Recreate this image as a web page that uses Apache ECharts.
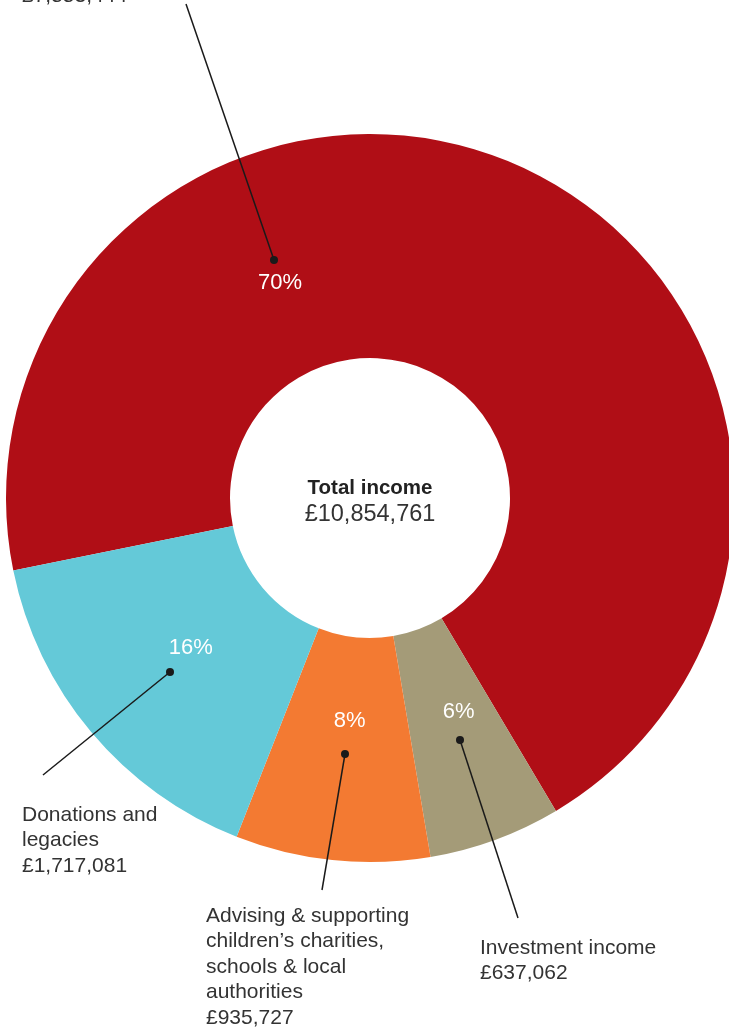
<!DOCTYPE html>
<html>
<head>
<meta charset="utf-8">
<script src="https://cdn.jsdelivr.net/npm/echarts@6/dist/echarts.min.js"></script>
<style>
html,body{margin:0;padding:0;background:#fff;}
#chart{width:729px;height:1031px;}
</style>
</head>
<body>
<div id="chart"></div>
<script>
// Data (clockwise from the red/blue boundary)
var categories = ['Charitable activities', 'Investment income', 'Advising & supporting children\u2019s charities, schools & local authorities', 'Donations and legacies'];
var values = [7553444, 637062, 935727, 1717081];
var pctLabels = ['70%', '6%', '8%', '16%'];
var colors = ['#b00e16', '#a49b78', '#f37a32', '#64c9d8'];
var outerLabels = [
  '\u00a37,553,444',
  'Investment income\n\u00a3637,062',
  'Advising & supporting\nchildren\u2019s charities,\nschools & local\nauthorities\n\u00a3935,727',
  'Donations and\nlegacies\n\u00a31,717,081'
];
var totalTitle = 'Total income';
var totalValue = '\u00a310,854,761';

var cx = 370, cy = 498, r0 = 140, r1 = 364;
var font = '"Liberation Sans", Arial, sans-serif';

// annotation geometry (leader lines & label boxes)
var leaders = [
  {dot: [274, 260], end: [186, 4], text: [22, 9], vAlign: 'bottom'},
  {dot: [460, 740], end: [518, 918], text: [480, 935], vAlign: 'top'},
  {dot: [345, 754], end: [322, 890], text: [206, 903], vAlign: 'top'},
  {dot: [170, 672], end: [43, 775], text: [22, 802], vAlign: 'top'}
];

var graphics = [];
leaders.forEach(function (l, i) {
  graphics.push({type: 'line', z: 100, shape: {x1: l.dot[0], y1: l.dot[1], x2: l.end[0], y2: l.end[1]}, style: {stroke: '#1a1a1a', lineWidth: 1.5}});
  graphics.push({type: 'circle', z: 101, shape: {cx: l.dot[0], cy: l.dot[1], r: 4}, style: {fill: '#1a1a1a'}});
  graphics.push({type: 'text', z: 100, x: l.text[0], y: l.text[1], style: {text: outerLabels[i], font: '21px ' + font, fill: '#333', lineHeight: 25.5, verticalAlign: l.vAlign, align: 'left'}});
});
graphics.push({type: 'text', z: 100, x: cx, y: 488, style: {text: totalTitle, font: 'bold 20.5px ' + font, fill: '#222', align: 'center', verticalAlign: 'middle'}});
graphics.push({type: 'text', z: 100, x: cx, y: 515, style: {text: totalValue, font: '23.5px ' + font, fill: '#333', align: 'center', verticalAlign: 'middle'}});

var data = values.map(function (v, i) {
  return {name: categories[i], value: v, itemStyle: {color: colors[i]}};
});
var labelData = values.map(function (v, i) {
  return {name: categories[i], value: v};
});

var chart = echarts.init(document.getElementById('chart'));
chart.setOption({
  animation: false,
  series: [
    {
      type: 'pie',
      center: [cx, cy],
      radius: [r0, r1],
      startAngle: 191.5,
      clockwise: true,
      silent: true,
      label: {show: false},
      labelLine: {show: false},
      itemStyle: {borderWidth: 0},
      data: data
    },
    {
      type: 'pie',
      center: [cx, cy],
      radius: [r0, 322],
      startAngle: 191.5,
      clockwise: true,
      silent: true,
      itemStyle: {color: 'rgba(0,0,0,0)'},
      label: {
        show: true,
        position: 'inside',
        color: '#fff',
        fontSize: 22,
        fontFamily: font,
        formatter: function (p) { return pctLabels[p.dataIndex]; }
      },
      labelLine: {show: false},
      labelLayout: function (p) {
        if (p.dataIndex === 0) return {x: 280, y: 283, align: 'center', verticalAlign: 'middle'};
        if (p.dataIndex === 1) return {dx: 8, dy: -6};
        if (p.dataIndex === 2) return {dx: 4, dy: -10};
        return {};
      },
      data: labelData
    }
  ],
  graphic: graphics
});
</script>
</body>
</html>
